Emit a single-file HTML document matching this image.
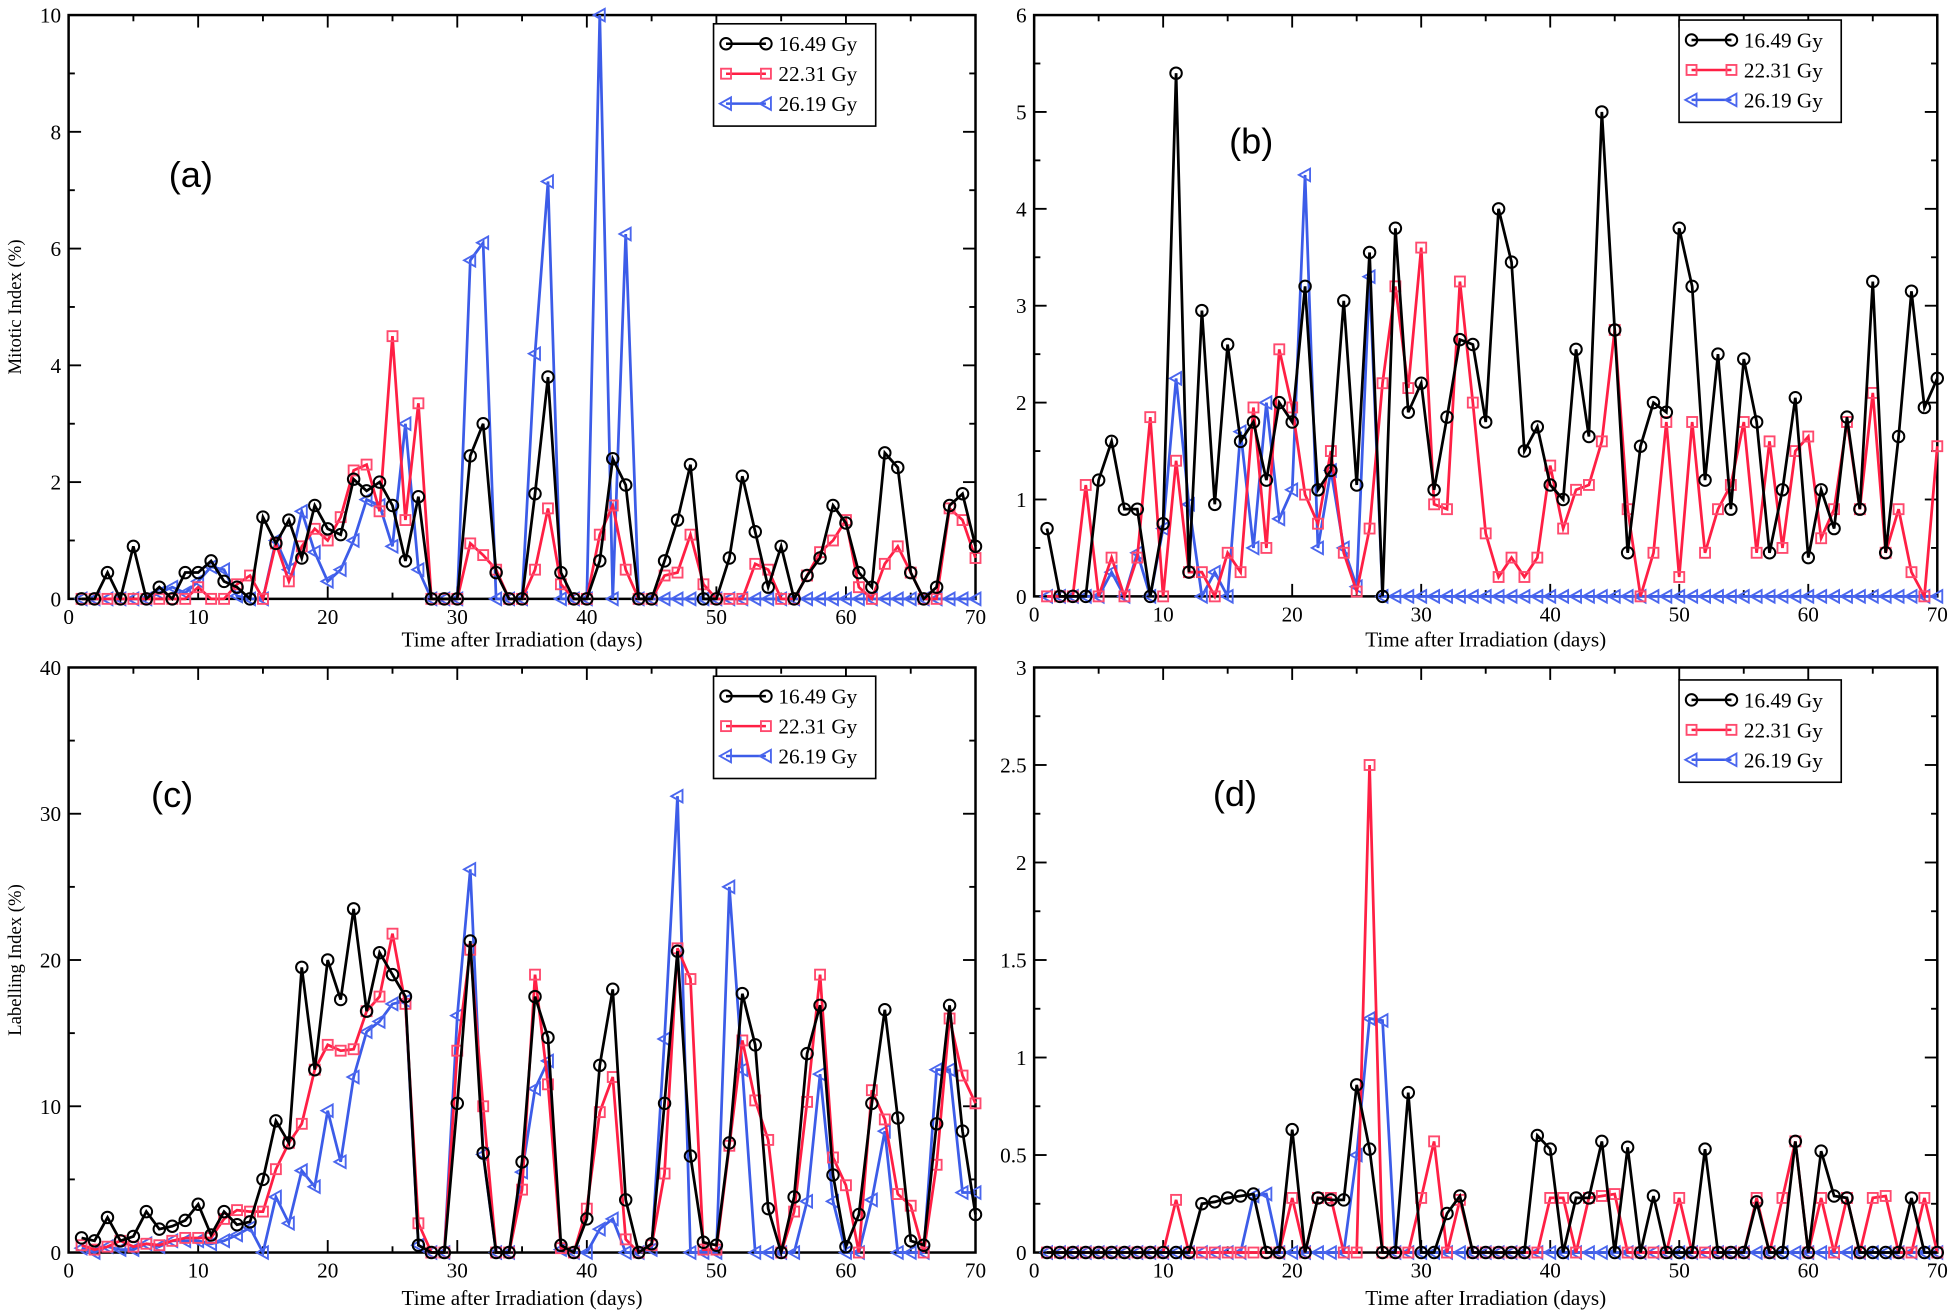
<!DOCTYPE html>
<html><head><meta charset="utf-8"><style>
html,body{margin:0;padding:0;background:#fff}
svg{display:block}
text{font-family:"Liberation Serif",serif;fill:#000}
</style></head><body>
<svg id="chart" width="1956" height="1315" viewBox="0 0 1568 1054" xmlns="http://www.w3.org/2000/svg"></svg>
<script>
const days = Array.from({length:70},(_,i)=>i+1);
const seriesNames = ["16.49 Gy","22.31 Gy","26.19 Gy"];
// Panel (a) Mitotic index
const aBlack=[0,0,0.45,0,0.9,0,0.2,0,0.45,0.45,0.65,0.3,0.2,0,1.4,0.95,1.35,0.7,1.6,1.2,1.1,2.05,1.85,2.0,1.6,0.65,1.75,0,0,0,2.45,3.0,0.45,0,0,1.8,3.8,0.45,0,0,0.65,2.4,1.95,0,0,0.65,1.35,2.3,0,0,0.7,2.1,1.15,0.2,0.9,0,0.4,0.7,1.6,1.3,0.45,0.2,2.5,2.25,0.45,0,0.2,1.6,1.8,0.9];
const aRed=[0,0,0,0,0,0,0,0,0,0.2,0,0,0.25,0.4,0,0.95,0.3,0.9,1.2,1.0,1.4,2.2,2.3,1.5,4.5,1.35,3.35,0,0,0,0.95,0.75,0.5,0,0,0.5,1.55,0.25,0,0,1.1,1.6,0.5,0,0,0.4,0.45,1.1,0.25,0,0,0,0.6,0.5,0,0,0.4,0.8,1.0,1.35,0.2,0,0.6,0.9,0.45,0,0,1.55,1.35,0.7];
const aBlue=[0,0,0,0,0,0,0.1,0.2,0.1,0.3,0.55,0.5,0.05,0,0,1.0,0.5,1.5,0.8,0.3,0.5,1.0,1.7,1.6,0.9,3.0,0.5,0,0,0,5.8,6.1,0,0,0,4.2,7.15,0,0,0,10,0,6.25,0,0,0,0,0,0,0,0,0,0,0,0,0,0,0,0,0,0,0,0,0,0,0,0,0,0,0];
// Panel (b)
const bBlack=[0.7,0,0,0,1.2,1.6,0.9,0.9,0,0.75,5.4,0.25,2.95,0.95,2.6,1.6,1.8,1.2,2.0,1.8,3.2,1.1,1.3,3.05,1.15,3.55,0,3.8,1.9,2.2,1.1,1.85,2.65,2.6,1.8,4.0,3.45,1.5,1.75,1.15,1.0,2.55,1.65,5.0,2.75,0.45,1.55,2.0,1.9,3.8,3.2,1.2,2.5,0.9,2.45,1.8,0.45,1.1,2.05,0.4,1.1,0.7,1.85,0.9,3.25,0.45,1.65,3.15,1.95,2.25];
const bRed=[0,0,0,1.15,0,0.4,0,0.4,1.85,0,1.4,0.25,0.25,0,0.45,0.25,1.95,0.5,2.55,1.95,1.05,0.75,1.5,0.45,0.05,0.7,2.2,3.2,2.15,3.6,0.95,0.9,3.25,2.0,0.65,0.2,0.4,0.2,0.4,1.35,0.7,1.1,1.15,1.6,2.75,0.9,0,0.45,1.8,0.2,1.8,0.45,0.9,1.15,1.8,0.45,1.6,0.5,1.5,1.65,0.6,0.9,1.8,0.9,2.1,0.45,0.9,0.25,0,1.55];
const bBlue=[0,0,0,0,0,0.25,0,0.45,0,0.7,2.25,0.95,0,0.25,0,1.7,0.5,2.0,0.8,1.1,4.35,0.5,1.3,0.5,0.1,3.3,0,0,0,0,0,0,0,0,0,0,0,0,0,0,0,0,0,0,0,0,0,0,0,0,0,0,0,0,0,0,0,0,0,0,0,0,0,0,0,0,0,0,0,0];
// Panel (c) Labelling index
const cBlack=[1.0,0.8,2.4,0.8,1.1,2.8,1.6,1.8,2.2,3.3,1.2,2.8,1.9,2.1,5.0,9.0,7.5,19.5,12.5,20.0,17.3,23.5,16.5,20.5,19.0,17.5,0.5,0,0,10.2,21.3,6.8,0,0,6.2,17.5,14.7,0.5,0,2.3,12.8,18.0,3.6,0,0.6,10.2,20.6,6.6,0.7,0.5,7.5,17.7,14.2,3.0,0,3.8,13.6,16.9,5.3,0.4,2.6,10.2,16.6,9.2,0.8,0.5,8.8,16.9,8.3,2.6];
const cRed=[0.5,0.2,0.4,0.8,0.4,0.6,0.5,0.8,1.0,1.0,1.0,2.3,2.9,2.8,2.8,5.7,7.5,8.8,12.5,14.2,13.8,13.9,16.5,17.5,21.8,17.0,2.0,0,0,13.8,20.7,10.0,0,0,4.3,19.0,11.5,0.3,0,3.0,9.6,12.0,0.9,0,0.5,5.4,20.8,18.7,0.2,0.2,7.3,14.5,10.4,7.7,0,2.8,10.3,19.0,6.5,4.6,0,11.1,9.1,4.0,3.2,0,6.0,16.0,12.1,10.2];
const cBlue=[0.3,0,0.4,0.2,0.2,0.6,0.4,0.8,0.8,0.8,0.6,0.8,1.2,1.7,0,3.8,2.0,5.6,4.5,9.7,6.2,12.0,15.1,15.8,17.0,17.2,0.5,0,0,16.2,26.2,6.7,0,0,5.5,11.2,13.1,0.2,0,0,1.6,2.3,0,0,0.2,14.6,31.2,0,0,0,25.0,12.5,0,0,0,0,3.5,12.2,3.5,0,0,3.6,8.3,0,0,0,12.5,12.5,4.1,4.1];
// Panel (d)
const dBlack=[0,0,0,0,0,0,0,0,0,0,0,0,0.25,0.26,0.28,0.29,0.3,0,0,0.63,0,0.28,0.27,0.27,0.86,0.53,0,0,0.82,0,0,0.2,0.29,0,0,0,0,0,0.6,0.53,0,0.28,0.28,0.57,0,0.54,0,0.29,0,0,0,0.53,0,0,0,0.26,0,0,0.57,0,0.52,0.29,0.28,0,0,0,0,0.28,0,0];
const dRed=[0,0,0,0,0,0,0,0,0,0,0.27,0,0,0,0,0,0,0,0,0.28,0,0.28,0.28,0,0,2.5,0,0,0,0.28,0.57,0,0.27,0,0,0,0,0,0,0.28,0.28,0,0.28,0.29,0.3,0,0,0,0,0.28,0,0,0,0,0,0.28,0,0.28,0.57,0,0.28,0,0.28,0,0.28,0.29,0,0,0.28,0];
const dBlue=[0,0,0,0,0,0,0,0,0,0,0,0,0,0,0,0,0.29,0.3,0,0,0,0,0,0,0.5,1.2,1.19,0,0,0,0,0,0,0,0,0,0,0,0,0,0,0,0,0,0,0,0,0,0,0,0,0,0,0,0,0,0,0,0,0,0,0,0,0,0,0,0,0,0,0];
const xTicks=[0,10,20,30,40,50,60,70];
const aTicks=[0,2,4,6,8,10];
const bTicks=[0,1,2,3,4,5,6];
const cTicks=[0,10,20,30,40];
const dTicks=["0","0.5","1","1.5","2","2.5","3"];

const NS="http://www.w3.org/2000/svg";
const svg=document.getElementById('chart');
function mk(tag,attrs,parent){const e=document.createElementNS(NS,tag);for(const k in attrs)e.setAttribute(k,attrs[k]);(parent||svg).appendChild(e);return e;}
const COLORS=["#000000","#ff1f44","#3c5ce8"];
const MCOL=["#000000","#ff4a6e","#4a66ee"];

const panels=[
 {id:'a',L:55,R:782,T:12,B:480,ymax:10,ticks:aTicks,minor:1,data:[aBlack,aRed,aBlue],ylabel:'Mitotic Index (%)',lab:'(a)',lx:153,ly:150,leg:[572,19],xlab:518},
 {id:'b',L:829,R:1553,T:12,B:478,ymax:6,ticks:bTicks,minor:0.5,data:[bBlack,bRed,bBlue],ylabel:'',lab:'(b)',lx:1003,ly:123,leg:[1346,16],xlab:518},
 {id:'c',L:55,R:782,T:535,B:1004,ymax:40,ticks:cTicks,minor:5,data:[cBlack,cRed,cBlue],ylabel:'Labelling Index (%)',lab:'(c)',lx:138,ly:647,leg:[572,542],xlab:1046},
 {id:'d',L:829,R:1553,T:535,B:1004,ymax:3,ticks:dTicks,minor:0.25,data:[dBlack,dRed,dBlue],ylabel:'',lab:'(d)',lx:990,ly:646,leg:[1346,545],xlab:1046}
];

function marker(k,x,y,g){
  let m;
  if(k===0){m=mk('circle',{cx:x,cy:y,r:4.6,fill:'none',stroke:MCOL[0],'stroke-width':1.6},g);}
  else if(k===1){m=mk('rect',{x:x-4,y:y-4,width:8,height:8,fill:'none',stroke:MCOL[1],'stroke-width':1.5},g);}
  else {m=mk('path',{d:`M${x-5},${y} L${x+4},${y-5} L${x+4},${y+5} Z`,fill:'none',stroke:MCOL[2],'stroke-width':1.5},g);}
  
  
}

panels.forEach(p=>{
  const g=mk('g',{});
  
  
  const xs=d=>p.L+(p.R-p.L)*d/70;
  const ys=v=>p.B-(p.B-p.T)*v/p.ymax;
  // ticks
  for(let d=0;d<=70;d+=5){
    const maj=d%10===0, len=maj?10:5;
    mk('line',{x1:xs(d),x2:xs(d),y1:p.B,y2:p.B-len,stroke:'#000','stroke-width':1.5},g);
    mk('line',{x1:xs(d),x2:xs(d),y1:p.T,y2:p.T+len,stroke:'#000','stroke-width':1.5},g);
  }
  xTicks.forEach(t=>{const tl=mk('text',{x:xs(t),y:p.B+20,'font-size':17,'text-anchor':'middle'},g);tl.textContent=t;
    });
  for(let v=0;v<=p.ymax+1e-9;v+=p.minor){
    const maj=Math.abs(v/(p.minor*2)-Math.round(v/(p.minor*2)))<1e-6, len=maj?10:5;
    mk('line',{x1:p.L,x2:p.L+len,y1:ys(v),y2:ys(v),stroke:'#000','stroke-width':1.5},g);
    mk('line',{x1:p.R,x2:p.R-len,y1:ys(v),y2:ys(v),stroke:'#000','stroke-width':1.5},g);
  }
  p.ticks.forEach(t=>{const v=parseFloat(t);const tl=mk('text',{x:p.L-6,y:ys(v)+6,'font-size':17,'text-anchor':'end'},g);tl.textContent=t;
    });
  const fr=mk('rect',{x:p.L,y:p.T,width:p.R-p.L,height:p.B-p.T,fill:'none',stroke:'#000','stroke-width':2},g);
  
  // series
  [2,1,0].forEach(k=>{
    const arr=p.data[k];
    const sg=mk('g',{},g);
    
    
    const pts=days.map((d,i)=>xs(d).toFixed(1)+','+ys(arr[i]).toFixed(1)).join(' ');
    const pl=mk('polyline',{points:pts,fill:'none',stroke:COLORS[k],'stroke-width':k===0?2.2:2.2,'stroke-linejoin':'miter'},sg);
    
    days.forEach((d,i)=>marker(k,xs(d),ys(arr[i]),sg));
  });
  // axis labels
  const xl=mk('text',{x:(p.L+p.R)/2,y:p.xlab,'font-size':17,'text-anchor':'middle'},g);
  xl.textContent='Time after Irradiation (days)';
  
  if(p.ylabel){
    const cy=(p.T+p.B)/2;
    const yl=mk('text',{x:17,y:cy,'font-size':15,'text-anchor':'middle',transform:`rotate(-90 17 ${cy})`},g);
    yl.textContent=p.ylabel;
    
  }
  const pl=mk('text',{x:p.lx,y:p.ly,'font-size':29,'text-anchor':'middle',style:'font-family:"Liberation Sans",sans-serif'},g);
  pl.textContent=p.lab;
  
  // legend
  const lg=mk('g',{},g);
  
  const [lx,ly]=p.leg;
  mk('rect',{x:lx,y:ly,width:130,height:82,fill:'#fff',stroke:'#000','stroke-width':1.3},lg);
  seriesNames.forEach((n,k)=>{
    const yy=ly+16+k*24;
    const eg=mk('g',{},lg);
    
    mk('line',{x1:lx+10,x2:lx+42,y1:yy,y2:yy,stroke:COLORS[k],'stroke-width':2},eg);
    marker(k,lx+10,yy,eg);marker(k,lx+42,yy,eg);
    const t=mk('text',{x:lx+52,y:yy+6,'font-size':17},eg);t.textContent=n;
  });
});
</script>
</body></html>
